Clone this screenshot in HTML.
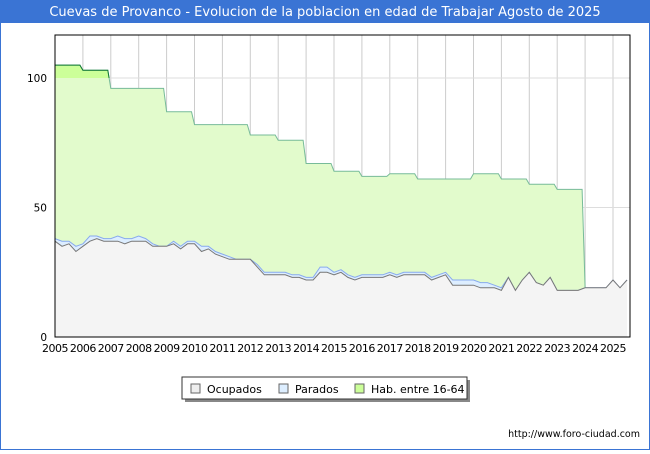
<!DOCTYPE html>
<html><head><meta charset="utf-8"><style>
body{margin:0;width:650px;height:450px;overflow:hidden;background:#fff;font-family:"DejaVu Sans","Liberation Sans",sans-serif}
</style></head><body>
<svg id="c" width="650" height="450" xmlns="http://www.w3.org/2000/svg">
<rect x="0.5" y="0.5" width="649" height="449" fill="#fff" stroke="#3a74d4"/>
<rect x="0" y="0" width="650" height="23" fill="#3a74d4"/>
<text x="325" y="16" text-anchor="middle" fill="#fff" font-size="13">Cuevas de Provanco - Evolucion de la poblacion en edad de Trabajar Agosto de 2025</text>
<g id="grid"></g><g id="plot"></g><g id="axes"></g>
<g>
<rect x="185" y="380" width="285" height="22" fill="#888"/>
<rect x="182" y="377" width="285" height="22" fill="#fff" stroke="#333"/>
<rect x="191" y="384" width="9" height="9" fill="#eeeeee" stroke="#666"/>
<text x="207" y="393" font-size="11">Ocupados</text>
<rect x="279" y="384" width="9" height="9" fill="#ddeeff" stroke="#666"/>
<text x="295" y="393" font-size="11">Parados</text>
<rect x="355" y="384" width="9" height="9" fill="#ccff99" stroke="#666"/>
<text x="371" y="393" font-size="11">Hab. entre 16-64</text>
</g>
<text x="640" y="437" text-anchor="end" font-size="9.5">http://www.foro-ciudad.com</text>
</svg>
<script>
const years=[2005,2006,2007,2008,2009,2010,2011,2012,2013,2014,2015,2016,2017,2018,2019,2020,2021,2022,2023,2024,2025];
const habValues=[105,103,96,96,87,82,82,78,76,67,64,62,63,61,61,63,61,59,57];
const ocupados=[37,35,36,33, 35,37,38,37, 37,37,36,37, 37,37,35,35, 35,36,34,36, 36,33,34,32, 31,30,30,30, 30,27,24,24, 24,24,23,23, 22,22,25,25, 24,25,23,22, 23,23,23,23, 24,23,24,24, 24,24,22,23, 24,20,20,20, 20,19,19,19, 18,23,18,22, 25,21,20,23, 18,18,18,18, 19,19,19,19, 22,19,22];
const parados=[1,2,1,2, 1,2,1,1, 1,2,2,1, 2,1,1,0, 0,1,1,1, 1,2,1,1, 1,1,0,0, 0,1,1,1, 1,1,1,1, 1,1,2,2, 1,1,1,1, 1,1,1,1, 1,1,1,1, 1,1,1,1, 1,2,2,2, 2,2,2,1, 1,0,0,0, 0,0,0,0, 0,0,0,0, 0,0,0,0, 0,0,0];
const yTicks=[0,50,100];
const L=55,R=630,T=35,B=337;
const x=t=>L+(t-2005)*(613-55)/20;
const y=v=>B-v*(B-78)/100;
const NS='http://www.w3.org/2000/svg';
function mk(tag,attrs,parent){const e=document.createElementNS(NS,tag);for(const k in attrs)e.setAttribute(k,attrs[k]);document.getElementById(parent).appendChild(e);return e;}
years.forEach(yr=>{const l=mk('line',{x1:x(yr),x2:x(yr),y1:T,y2:B,stroke:'#ccc'},'grid');


const t=mk('text',{x:x(yr),y:B+15,'text-anchor':'middle','font-size':'11','letter-spacing':'-0.5'},'axes');t.textContent=yr;

});
yTicks.forEach(v=>{const l=mk('line',{x1:L,x2:R,y1:y(v),y2:y(v),stroke:'#ddd'},'grid');


const t=mk('text',{x:L-8,y:y(v)+4,'text-anchor':'end','font-size':'10.5'},'axes');t.textContent=v;

});
const tq=i=>2005+i/4;
const occPts=ocupados.map((v,i)=>[x(tq(i)),y(v)]);
const parPts=ocupados.map((v,i)=>[x(tq(i)),y(v+parados[i])]);
const habPts=[];
habValues.forEach((v,i)=>{habPts.push([x(years[i]),y(v)]);habPts.push([x(years[i]+1)-3,y(v)]);});
const endIdx=Math.round((2024-2005)*4);
habPts.push([x(2024),y(ocupados[endIdx]+parados[endIdx])]);
const lastX=occPts[occPts.length-1][0];
const ps=p=>p.map(q=>q[0].toFixed(1)+','+q[1].toFixed(1)).join(' ');
const habPoly=[...habPts,...parPts.filter(p=>p[0]>x(2024)),[lastX,B],[L,B]];
let e=mk('polygon',{points:ps(habPoly),fill:'#e2fbcc'},'plot');


mk('clipPath',{id:'above'},'plot');
const cp=document.getElementById('above');const cr=document.createElementNS(NS,'rect');
cr.setAttribute('x',L);cr.setAttribute('y',T);cr.setAttribute('width',R-L);cr.setAttribute('height',y(100)-T);cp.appendChild(cr);
e=mk('polygon',{points:ps(habPoly),fill:'#ccff99','clip-path':'url(#above)'},'plot');


e=mk('polyline',{points:ps(habPts),fill:'none',stroke:'#77bb99','stroke-width':1},'plot');


e=mk('polyline',{points:ps(habPts),fill:'none',stroke:'#117733','stroke-width':1,'clip-path':'url(#above)'},'plot');


e=mk('polygon',{points:ps([...parPts,[lastX,B],[L,B]]),fill:'#ddeeff'},'plot');


e=mk('polyline',{points:ps(parPts),fill:'none',stroke:'#88aaee'},'plot');


e=mk('polygon',{points:ps([...occPts,[lastX,B],[L,B]]),fill:'#f4f4f4'},'plot');


e=mk('polyline',{points:ps(occPts),fill:'none',stroke:'#777'},'plot');


e=mk('rect',{x:L,y:T,width:R-L,height:B-T,fill:'none',stroke:'#000'},'axes');


</script>
</body></html>
